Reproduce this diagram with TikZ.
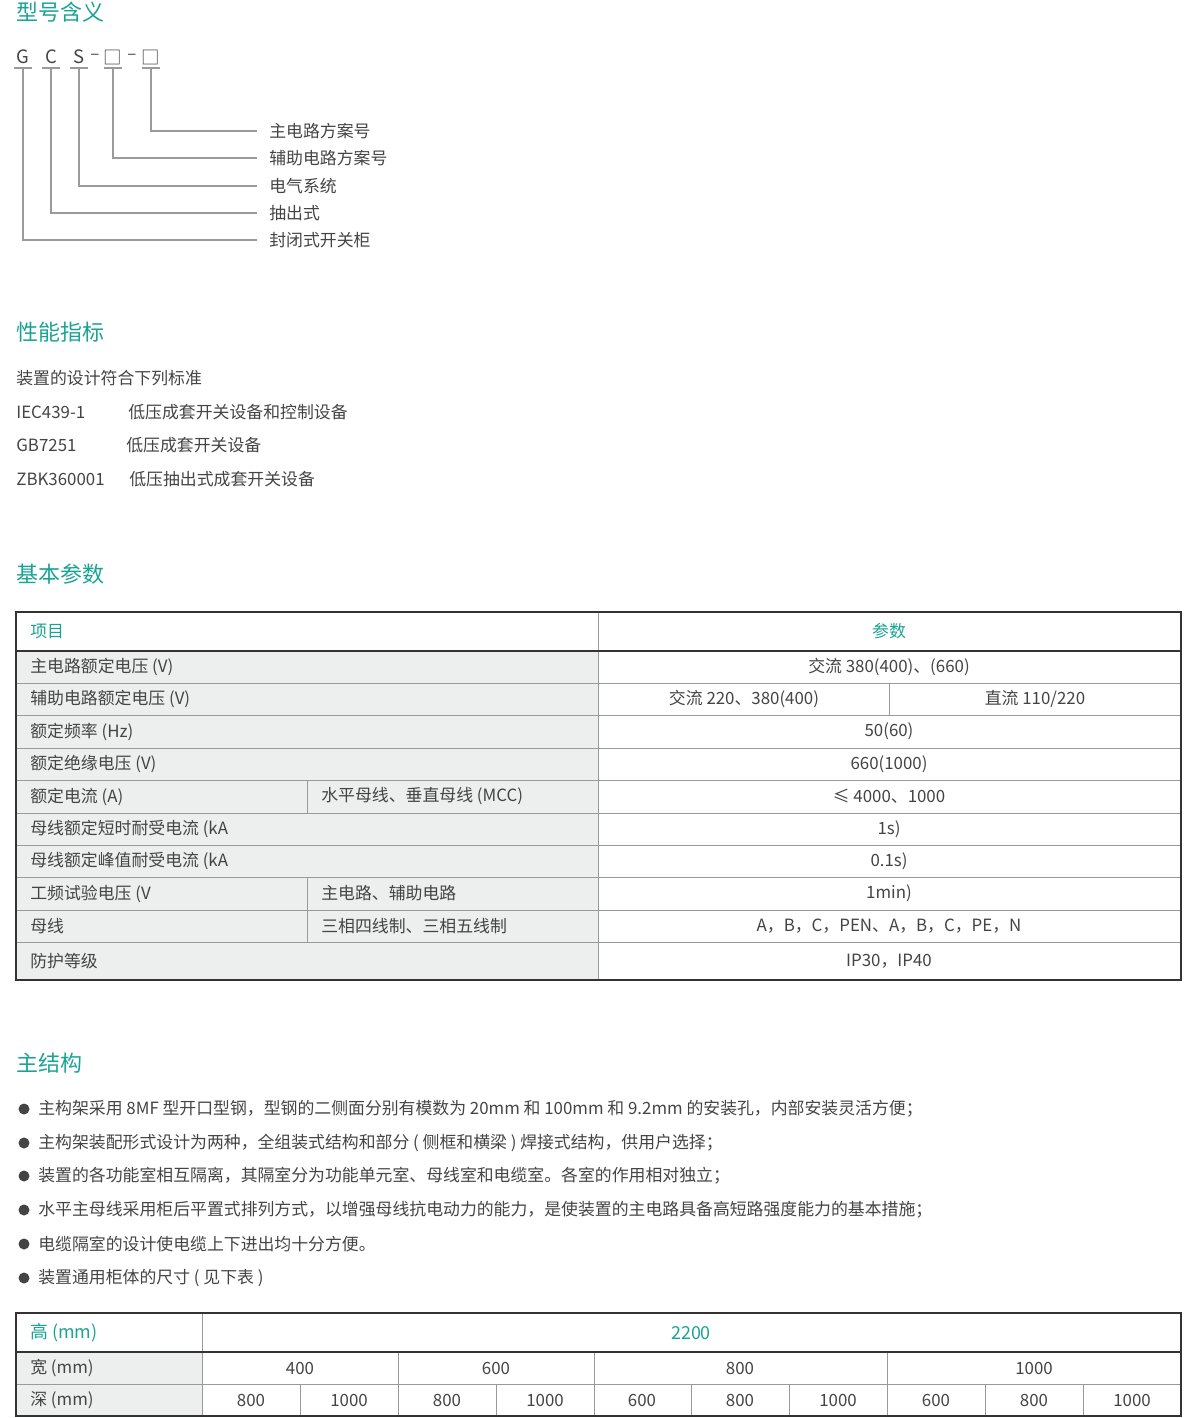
\documentclass[tikz,border=0pt]{standalone}
\usepackage{fontspec}
\setmainfont{Noto Sans CJK SC}
\usetikzlibrary{positioning}
\definecolor{teal}{HTML}{1AA394}
\definecolor{txt}{HTML}{444444}
\definecolor{cellgray}{HTML}{EDEEEE}
\definecolor{rule}{HTML}{333333}
\definecolor{thin}{HTML}{9A9A9A}
\tikzset{
  sectitle/.style={anchor=west, inner sep=0pt, text=teal, font=\fontsize{12.5}{14}\selectfont},
  bodytext/.style={anchor=west, inner sep=0pt, text=txt, font=\fontsize{9.6}{11}\selectfont},
  celltext/.style={inner sep=0pt, text=txt, font=\fontsize{9.6}{11}\selectfont},
  headtext/.style={inner sep=0pt, text=teal, font=\fontsize{9.6}{11}\selectfont},
  leader/.style={draw=thin, line width=0.6pt},
  outer/.style={draw=rule, line width=1.2pt},
  inner/.style={draw=thin, line width=0.5pt}
}
\begin{document}
\begin{tikzpicture}[x=0.02cm, y=-0.02cm]
  \useasboundingbox (0,0) rectangle (1200,1418);

  % model code
  \node (t1) [sectitle] at (16,12) {型号含义};
  \foreach \ch/\x in {G/23, C/51, S/79} {
    \node (c\ch) [celltext, font=\fontsize{10.5}{12}\selectfont] at (\x,57) {\ch};
    \draw [leader] (\x-9,68) -- (\x+9,68);
  }
  \node (d1) [celltext] at (95,57) {–};
  \node (d2) [celltext] at (132,57) {–};
  \node (b1) [celltext, font=\fontsize{10.5}{12}\selectfont] at (113,57) {□};
  \node (b2) [celltext, font=\fontsize{10.5}{12}\selectfont] at (151,57) {□};
  \draw [leader] (104,68) -- (122,68);
  \draw [leader] (142,68) -- (160,68);
  \foreach \x/\y/\lab [count=\i] in {151/131/主电路方案号, 113/158/辅助电路方案号, 79/186/电气系统, 51/213/抽出式, 23/240/封闭式开关柜} {
    \coordinate (lt\i) at (\x,68);
    \coordinate (lr\i) at (257,\y);
    \node (lab\i) [bodytext] at (269,\y) {\lab};
    \draw [leader] (lt\i) |- (lr\i);
  }

  % standards
  \node (t2) [sectitle] at (16,332) {性能指标};
  \node (s0) [bodytext] at (16,378) {装置的设计符合下列标准};
  \node (s1) [bodytext] at (16,412) {IEC439-1};
  \node (s1b) [bodytext] at (128,412) {低压成套开关设备和控制设备};
  \node (s2) [bodytext] at (16,445) {GB7251};
  \node (s2b) [bodytext] at (126,445) {低压成套开关设备};
  \node (s3) [bodytext] at (16,479) {ZBK360001};
  \node (s3b) [bodytext] at (129,479) {低压抽出式成套开关设备};

  % basic parameters table
  \node (t3) [sectitle] at (16,574) {基本参数};
  \fill [cellgray] (16,651) rectangle (598,980);
  \foreach \y in {683,715,748,780,813,845,877,910,942}
    \draw [inner] (16,\y) -- (1181,\y);
  \draw [inner] (598,612) -- (598,980);
  \draw [inner] (889,683) -- (889,715);
  \draw [inner] (307,780) -- (307,813);
  \draw [inner] (307,877) -- (307,942);
  \draw [outer] (16,651) -- (1181,651);
  \draw [outer] (16,612) rectangle (1181,980);
  \node (h1) [headtext, anchor=west] at (30,631) {项目};
  \node (h2) [headtext] at (889,631) {参数};
  \foreach \y/\lab/\val [count=\i] in {
      667/主电路额定电压 (V)/交流 380(400)、(660),
      731.5/额定频率 (Hz)/50(60),
      764/额定绝缘电压 (V)/660(1000),
      796.5/额定电流 (A)/≤ 4000、1000,
      829/母线额定短时耐受电流 (kA/1s)/50，80,
      861/母线额定峰值耐受电流 (kA/0.1s)/105，176,
      893.5/工频试验电压 (V/1min)/2500、1760,
      926/母线/A，B，C，PEN、A，B，C，PE，N,
      961/防护等级/IP30，IP40} {
    \node (p\i) [celltext, anchor=west] at (30,\y) {\lab};
    \node (v\i) [celltext] at (889,\y) {\val};
  }
  \node (p0) [celltext, anchor=west] at (30,699) {辅助电路额定电压 (V)};
  \node (v0a) [celltext] at (744,699) {交流 220、380(400)};
  \node (v0b) [celltext] at (1035,699) {直流 110/220};
  \node (q4) [celltext, anchor=west] at (321,796.5) {水平母线、垂直母线 (MCC)};
  \node (q7) [celltext, anchor=west] at (321,893.5) {主电路、辅助电路};
  \node (q8) [celltext, anchor=west] at (321,926) {三相四线制、三相五线制};

  % structure
  \node (t4) [sectitle] at (16,1063) {主结构};
  \foreach \y/\lab [count=\i] in {
      1109/主构架采用 8MF 型开口型钢，型钢的二侧面分别有模数为 20mm 和 100mm 和 9.2mm 的安装孔，内部安装灵活方便；,
      1143/主构架装配形式设计为两种，全组装式结构和部分 ( 侧框和横梁 ) 焊接式结构，供用户选择；,
      1176/装置的各功能室相互隔离，其隔室分为功能单元室、母线室和电缆室。各室的作用相对独立；,
      1210/水平主母线采用柜后平置式排列方式，以增强母线抗电动力的能力，是使装置的主电路具备高短路强度能力的基本措施；,
      1244/电缆隔室的设计使电缆上下进出均十分方便。,
      1278/装置通用柜体的尺寸 ( 见下表 )} {
    \fill [txt] (24,\y) circle (5.5);
    \node (m\i) [bodytext] at (38,\y) {\lab};
  }

  % dimensions table
  \fill [cellgray] (16,1352) rectangle (202,1416);
  \draw [inner] (16,1384) -- (1181,1384);
  \foreach \x in {398,594,887} \draw [inner] (\x,1352) -- (\x,1416);
  \foreach \x in {300,496,691,789,985,1083} \draw [inner] (\x,1384) -- (\x,1416);
  \draw [inner] (202,1313) -- (202,1416);
  \draw [outer] (16,1352) -- (1181,1352);
  \draw [outer] (16,1313) rectangle (1181,1416);
  \node (hh) [headtext, anchor=west, font=\fontsize{10.2}{12}\selectfont] at (30,1333) {高 (mm)};
  \node (hv) [headtext, font=\fontsize{10.2}{12}\selectfont] at (691,1333) {2200};
  \node (wl) [celltext, anchor=west] at (30,1368) {宽 (mm)};
  \node (dl) [celltext, anchor=west] at (30,1400) {深 (mm)};
  \foreach \x/\w [count=\i] in {300/400, 496/600, 740/800, 1034/1000}
    \node (w\i) [celltext] at (\x,1368) {\w};
  \foreach \x/\d [count=\i] in {251/800, 349/1000, 447/800, 545/1000, 642/600, 740/800, 838/1000, 936/600, 1034/800, 1132/1000}
    \node (dp\i) [celltext] at (\x,1400) {\d};
\end{tikzpicture}
\end{document}
